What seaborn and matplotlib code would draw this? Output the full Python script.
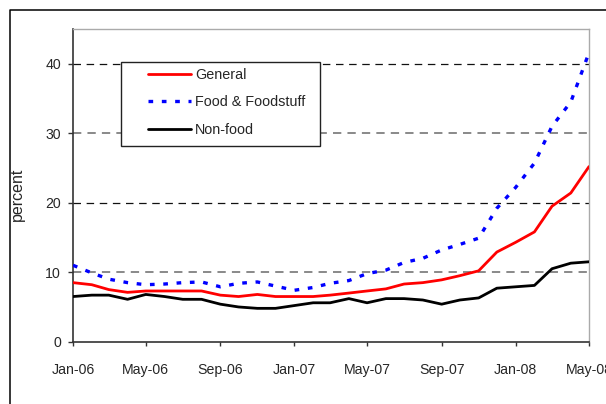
import numpy as np
import pandas as pd
import matplotlib
matplotlib.use('Agg')
import matplotlib.pyplot as plt
import matplotlib.dates as mdates
from matplotlib.patches import Rectangle
from matplotlib.lines import Line2D
import seaborn as sns

# monthly inflation, Jan-06 .. May-08
months = pd.date_range('2006-01-01', '2008-05-01', freq='MS')
general = [8.5, 8.2, 7.5, 7.1, 7.3, 7.3, 7.3, 7.3, 6.7, 6.5, 6.8, 6.5, 6.5, 6.5, 6.7,
           7.0, 7.3, 7.6, 8.3, 8.5, 8.9, 9.5, 10.2, 12.9, 14.3, 15.8, 19.5, 21.4, 25.2]
food = [11.0, 9.9, 9.0, 8.5, 8.2, 8.3, 8.5, 8.6, 7.9, 8.4, 8.6, 8.0, 7.4, 7.8, 8.4,
        8.8, 9.8, 10.3, 11.4, 12.0, 13.2, 14.0, 14.9, 19.2, 22.2, 25.7, 31.0, 34.5, 41.6]
nonfood = [6.5, 6.7, 6.7, 6.1, 6.8, 6.5, 6.1, 6.1, 5.4, 5.0, 4.8, 4.8, 5.2, 5.6, 5.6,
           6.2, 5.6, 6.2, 6.2, 6.0, 5.4, 6.0, 6.3, 7.7, 7.9, 8.1, 10.5, 11.3, 11.5]
series_names = ['General', 'Food & Foodstuff', 'Non-food']
y_ticks = [0, 10, 20, 30, 40]

sns.set_style('white')
plt.rcParams['font.family'] = ['Liberation Sans', 'DejaVu Sans']

df = pd.DataFrame({'month': months, series_names[0]: general,
                   series_names[1]: food, series_names[2]: nonfood})
long_df = df.melt(id_vars='month', var_name='series', value_name='value')

fig = plt.figure(figsize=(6.06, 4.04), dpi=100)
ax = fig.add_axes([73 / 606, 1 - 341.7 / 404, 516 / 606, 312.7 / 404])

styles = {
    'General': dict(color='#ff0000', lw=2.0, ls='-'),
    'Food & Foodstuff': dict(color='#0000ff', lw=2.4, ls=(0, (1.4, 2.6))),
    'Non-food': dict(color='#000000', lw=2.0, ls='-'),
}
for name in series_names:
    st = styles[name]
    sns.lineplot(data=long_df[long_df['series'] == name], x='month', y='value',
                 ax=ax, color=st['color'], linewidth=st['lw'], linestyle=st['ls'],
                 label=name, zorder=3)

ax.set_xlim(months[0], months[-1])
ax.set_ylim(0, 45)
ax.set_yticks(y_ticks)
ax.xaxis.set_major_locator(mdates.MonthLocator(bymonth=[1, 5, 9]))
ax.xaxis.set_major_formatter(mdates.DateFormatter('%b-%y'))
ax.tick_params(axis='x', direction='out', length=3, width=1, pad=12,
               labelsize=10.2, color='#333333', bottom=True)
ax.tick_params(axis='y', direction='out', length=3.6, width=1, pad=5,
               labelsize=10.2, color='#333333', left=True)

ax.set_xlabel('')
ax.set_ylabel('percent', fontsize=11.5)
ax.yaxis.set_label_coords(-0.094, 0.47)

# dashed horizontal grid
ax.yaxis.grid(True, linestyle=(0, (6, 4.5)), linewidth=0.9, zorder=1)
for val, gl in zip(y_ticks, ax.get_ygridlines()):
    if val in (10, 30):
        gl.set_color('#808080')
        gl.set_linewidth(1.3)
        gl.set_dashes((4.6, 3.4))
    else:
        gl.set_color('#111111')
    if val == 0:
        gl.set_visible(False)
ax.xaxis.grid(False)

for side in ['left', 'bottom']:
    ax.spines[side].set_color('#333333')
    ax.spines[side].set_linewidth(1.2)
for side in ['top', 'right']:
    ax.spines[side].set_color('#aaaaaa')
    ax.spines[side].set_linewidth(1.0)

# legend box
ax.add_patch(Rectangle((0.093, 0.626), 0.3863, 0.2694, transform=ax.transAxes,
                       facecolor='white', edgecolor='#222222', linewidth=1.0, zorder=4))
leg = ax.legend(loc='center left', bbox_to_anchor=(0.1453, 0.7656), frameon=False,
                fontsize=10.4, handlelength=3.0, handletextpad=0.25,
                labelspacing=0.95, borderpad=0, borderaxespad=0)
leg.set_zorder(5)

# outer frame
fig.add_artist(Line2D([10 / 606, 10 / 606, 1.0], [0.0, 1 - 10 / 404, 1 - 10 / 404],
                      transform=fig.transFigure, color='black', linewidth=1.1))

fig.savefig('out.png', dpi=100)
